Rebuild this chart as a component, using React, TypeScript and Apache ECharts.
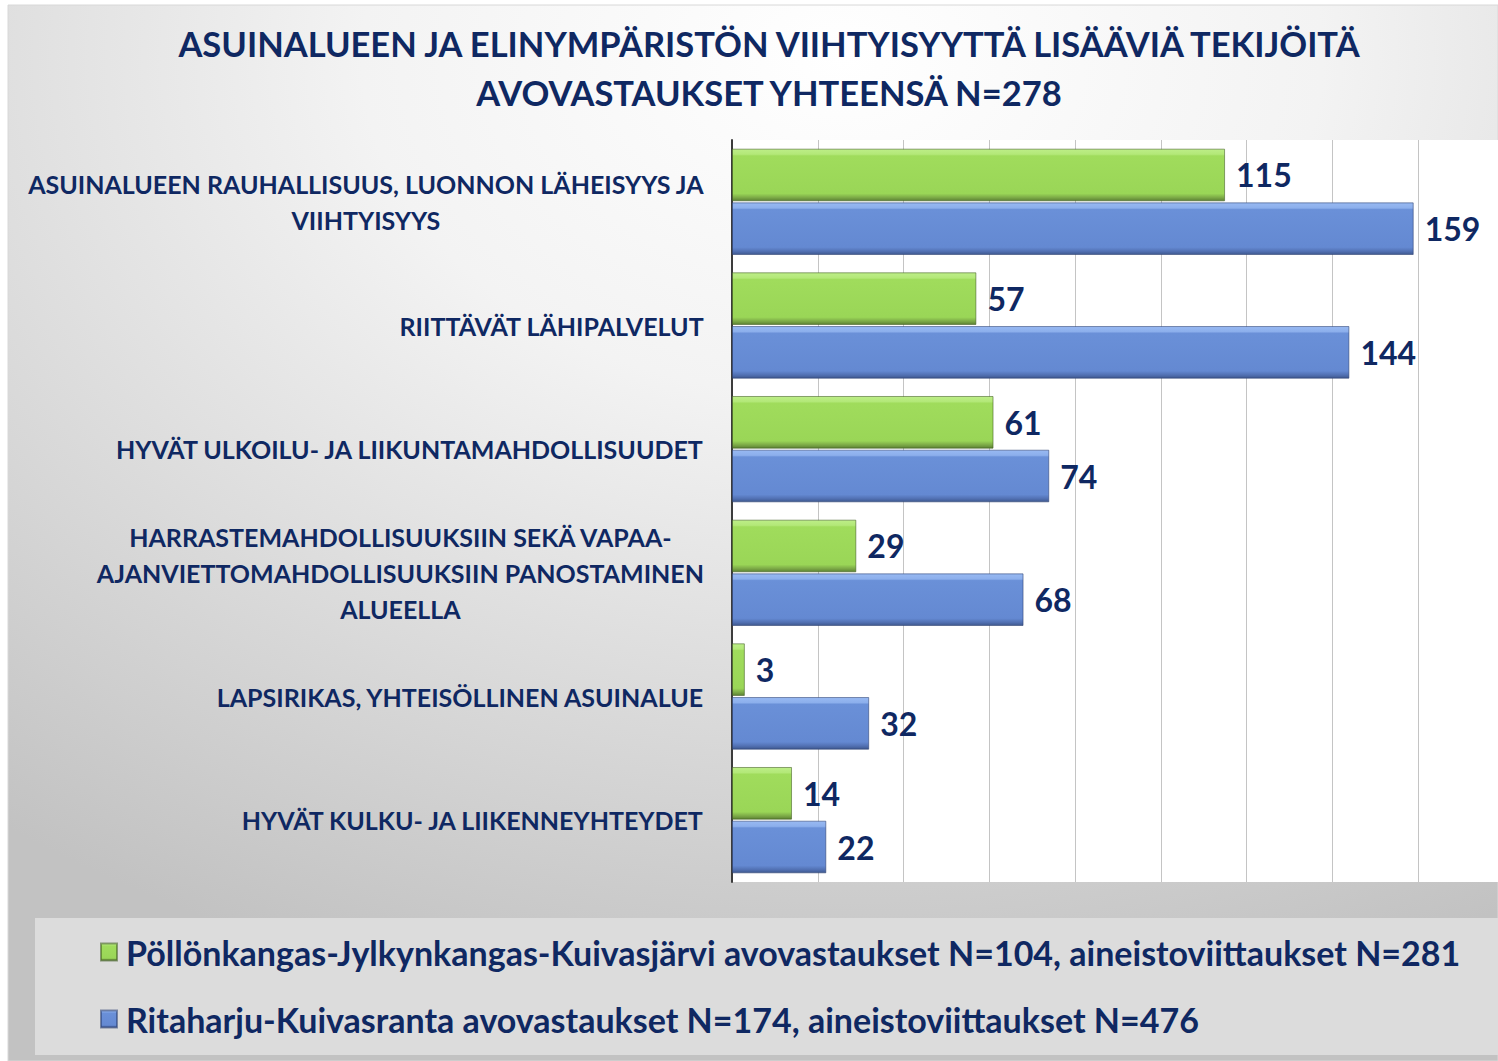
import React, { useEffect, useRef } from "react";
import * as echarts from "echarts";

const titleLines = [
  "ASUINALUEEN JA ELINYMPÄRISTÖN VIIHTYISYYTTÄ LISÄÄVIÄ TEKIJÖITÄ",
  "AVOVASTAUKSET YHTEENSÄ N=278",
];

const categories = [
  "ASUINALUEEN RAUHALLISUUS, LUONNON LÄHEISYYS JA\nVIIHTYISYYS",
  "RIITTÄVÄT LÄHIPALVELUT",
  "HYVÄT ULKOILU- JA LIIKUNTAMAHDOLLISUUDET",
  "HARRASTEMAHDOLLISUUKSIIN SEKÄ VAPAA-\nAJANVIETTOMAHDOLLISUUKSIIN PANOSTAMINEN\nALUEELLA",
  "LAPSIRIKAS, YHTEISÖLLINEN ASUINALUE",
  "HYVÄT KULKU- JA LIIKENNEYHTEYDET",
];

const seriesNames = [
  "Pöllönkangas-Jylkynkangas-Kuivasjärvi avovastaukset N=104, aineistoviittaukset N=281",
  "Ritaharju-Kuivasranta avovastaukset N=174, aineistoviittaukset N=476",
];

const pollonkangasValues = [115, 57, 61, 29, 3, 14];
const ritaharjuValues = [159, 144, 74, 68, 32, 22];

const NAVY = "#0f2862";
const FONT = "Lato, 'Noto Sans', sans-serif";

const greenFill = new echarts.graphic.LinearGradient(0, 0, 0, 1, [
  { offset: 0, color: "#bdee88" },
  { offset: 0.1, color: "#b3e878" },
  { offset: 0.13, color: "#a0dc5c" },
  { offset: 0.86, color: "#9ad657" },
  { offset: 0.94, color: "#7ba846" },
  { offset: 1, color: "#5c8233" },
]);

const blueFill = new echarts.graphic.LinearGradient(0, 0, 0, 1, [
  { offset: 0, color: "#98b9f2" },
  { offset: 0.1, color: "#8cafec" },
  { offset: 0.13, color: "#6a90d8" },
  { offset: 0.86, color: "#6489d2" },
  { offset: 0.94, color: "#5170b2" },
  { offset: 1, color: "#3e588e" },
]);

export default function App() {
  const ref = useRef<HTMLDivElement>(null);

  useEffect(() => {
    if (!ref.current) return;
    const chart = echarts.init(ref.current, undefined, { renderer: "svg" });

    const valueLabel = {
      show: true,
      position: "right",
      distance: 11,
      color: NAVY,
      fontFamily: FONT,
      fontWeight: "bold",
      fontSize: 32,
    };

    chart.setOption({
      animation: false,
      backgroundColor: "#ffffff",
      graphic: [
        {
          type: "rect",
          z: -20,
          silent: true,
          shape: { x: 8, y: 5, width: 1490, height: 1056 },
          style: {
            fill: new echarts.graphic.RadialGradient(0.56, 0.05, 0.92, [
              { offset: 0, color: "#ffffff" },
              { offset: 0.35, color: "#f3f3f3" },
              { offset: 1, color: "#c2c2c2" },
            ]),
            stroke: "#d8d8d8",
            lineWidth: 1,
          },
        },
        {
          type: "rect",
          z: -10,
          silent: true,
          shape: { x: 732, y: 140, width: 766, height: 742 },
          style: { fill: "#ffffff" },
        },
        {
          type: "rect",
          z: -10,
          silent: true,
          shape: { x: 35, y: 918, width: 1463, height: 137 },
          style: { fill: "#dcdcdc" },
        },
      ],
      title: {
        text: titleLines.join("\n"),
        left: 769,
        top: 19,
        textAlign: "center",
        padding: 0,
        textStyle: {
          color: NAVY,
          fontFamily: FONT,
          fontWeight: "bold",
          fontSize: 34.5,
          lineHeight: 49,
        },
      },
      legend: {
        orient: "vertical",
        left: 95,
        top: 930,
        itemWidth: 16,
        itemHeight: 17,
        itemGap: 33,
        icon: "rect",
        textStyle: {
          color: NAVY,
          fontFamily: FONT,
          fontWeight: "bold",
          fontSize: 34,
          lineHeight: 34,
          padding: [0, 0, 0, 4],
        },
        data: seriesNames,
      },
      grid: {
        left: 732,
        right: 80,
        top: 140,
        bottom: 179,
        containLabel: false,
      },
      xAxis: {
        type: "value",
        min: 0,
        max: 160,
        interval: 20,
        axisLabel: { show: false },
        axisLine: { show: false },
        axisTick: { show: false },
        splitLine: { show: true, lineStyle: { color: "#c4c4c4", width: 1 } },
      },
      yAxis: {
        type: "category",
        inverse: true,
        data: categories,
        axisLine: { show: true, lineStyle: { color: "#3c3c3c", width: 2 } },
        axisTick: { show: false },
        axisLabel: {
          margin: 28,
          formatter: (v: string) =>
            v
              .split("\n")
              .map((l) => `{c|${l}}`)
              .join("\n"),
          rich: {
            c: {
              align: "center",
              color: NAVY,
              fontFamily: FONT,
              fontWeight: "bold",
              fontSize: 25,
              lineHeight: 36,
            },
          },
        },
      },
      series: [
        {
          name: seriesNames[0],
          type: "bar",
          data: pollonkangasValues,
          barCategoryGap: "14%",
          barGap: "2%",
          itemStyle: {
            color: greenFill,
            borderColor: "rgba(60,90,30,0.55)",
            borderWidth: 1,
          },
          label: valueLabel,
        },
        {
          name: seriesNames[1],
          type: "bar",
          data: ritaharjuValues,
          barCategoryGap: "14%",
          barGap: "2%",
          itemStyle: {
            color: blueFill,
            borderColor: "rgba(40,60,110,0.55)",
            borderWidth: 1,
          },
          label: valueLabel,
        },
      ],
    });

    return () => chart.dispose();
  }, []);

  return (
    <div
      ref={ref}
      style={{ position: "fixed", left: 0, top: 0, width: 1498, height: 1061 }}
    />
  );
}
